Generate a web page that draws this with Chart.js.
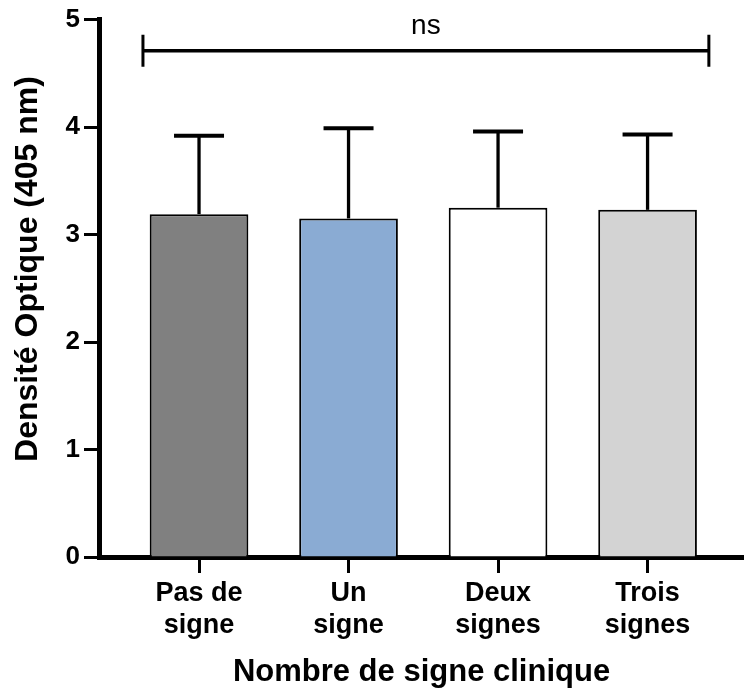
<!DOCTYPE html>
<html>
<head>
<meta charset="utf-8">
<script src="https://cdn.jsdelivr.net/npm/chart.js@4/dist/chart.umd.min.js"></script>
<style>
    html, body { margin: 0; padding: 0; background: #ffffff; }
    #chartBox { width: 744px; height: 693px; }
</style>
</head>
<body>
<div id="chartBox"><canvas id="barCanvas"></canvas></div>
<script>
// data
var categories = [["Pas de", "signe"], ["Un", "signe"], ["Deux", "signes"], ["Trois", "signes"]];
var means = [3.19, 3.15, 3.25, 3.23];
var errorTops = [3.92, 3.99, 3.96, 3.93];
var barColors = ["#808080", "#8aabd3", "#ffffff", "#d3d3d3"];
var yTicks = [0, 1, 2, 3, 4, 5];
var yTitle = "Densité Optique (405 nm)";
var xTitle = "Nombre de signe clinique";
var bracketLabel = "ns";
var bracketY = 4.71;
var bracketFrom = -0.375;
var bracketTo = 3.41;

var fontFamily = "'Liberation Sans', Arial, sans-serif";

var points = [];
for (var i = 0; i < means.length; i++) {
    points.push({ x: i, y: means[i] });
}

var errorBars = {
    id: "errorBars",
    afterDatasetsDraw: function(chart) {
        var ctx = chart.ctx;
        var xs = chart.scales.x, ys = chart.scales.y;
        ctx.save();
        ctx.strokeStyle = "#000000";
        for (var i = 0; i < means.length; i++) {
            var px = xs.getPixelForValue(i);
            var top = ys.getPixelForValue(errorTops[i]);
            ctx.lineWidth = 3.3;
            ctx.beginPath();
            ctx.moveTo(px, ys.getPixelForValue(means[i]));
            ctx.lineTo(px, top);
            ctx.stroke();
            ctx.lineWidth = 4;
            ctx.beginPath();
            ctx.moveTo(px - 25, top);
            ctx.lineTo(px + 25, top);
            ctx.stroke();
        }

        // significance bracket
        var x1 = xs.getPixelForValue(bracketFrom);
        var x2 = xs.getPixelForValue(bracketTo);
        var by = ys.getPixelForValue(bracketY);
        ctx.lineWidth = 3.5;
        ctx.beginPath();
        ctx.moveTo(x1, by);
        ctx.lineTo(x2, by);
        ctx.stroke();
        ctx.lineWidth = 3;
        ctx.beginPath();
        ctx.moveTo(x1, by - 16);
        ctx.lineTo(x1, by + 16);
        ctx.moveTo(x2, by - 16);
        ctx.lineTo(x2, by + 16);
        ctx.stroke();
        ctx.fillStyle = "#000000";
        ctx.font = "28px " + fontFamily;
        ctx.textAlign = "center";
        ctx.textBaseline = "alphabetic";
        ctx.fillText(bracketLabel, (x1 + x2) / 2, by - 17);

        // y title sits a bit above the axis middle in the original
        ctx.translate(28, 269);
        ctx.rotate(-Math.PI / 2);
        ctx.font = "bold 32px " + fontFamily;
        ctx.textBaseline = "middle";
        ctx.fillText(yTitle, 0, 0);
        ctx.restore();
    }
};

var barCTX = document.getElementById("barCanvas").getContext("2d");
var barChart = new Chart(barCTX, {
    type: "bar",
    data: {
        datasets: [{
            data: points,
            backgroundColor: barColors,
            borderColor: "#000000",
            borderWidth: 2,
            categoryPercentage: 0.66,
            barPercentage: 1
        }]
    },
    options: {
        responsive: true,
        maintainAspectRatio: false,
        animation: false,
        events: [],
        plugins: {
            legend: { display: false },
            tooltip: { enabled: false }
        },
        layout: {
            padding: { top: 17, left: 0, right: 0, bottom: 0 }
        },
        scales: {
            x: {
                type: "linear",
                min: -0.669,
                max: 3.645,
                offset: false,
                z: 1,
                afterBuildTicks: function(axis) {
                    axis.ticks = categories.map(function(c, i) { return { value: i }; });
                },
                afterFit: function(scale) { scale.height = 136; },
                ticks: {
                    color: "#000000",
                    padding: 4,
                    autoSkip: false,
                    maxRotation: 0,
                    font: { size: 27, weight: "bold", family: fontFamily },
                    callback: function(value) { return categories[value]; }
                },
                grid: {
                    offset: false,
                    drawOnChartArea: false,
                    tickLength: 16,
                    tickWidth: 3,
                    tickColor: "#000000"
                },
                border: { color: "#000000", width: 5 },
                title: {
                    display: true,
                    text: xTitle,
                    color: "#000000",
                    padding: { top: 0, bottom: 2 },
                    font: { size: 31, weight: "bold", family: fontFamily }
                }
            },
            y: {
                min: 0,
                max: 5,
                z: 1,
                afterBuildTicks: function(axis) {
                    axis.ticks = yTicks.map(function(v) { return { value: v }; });
                },
                afterFit: function(scale) { scale.width = 99; },
                ticks: {
                    color: "#000000",
                    padding: 4,
                    font: { size: 26, weight: "bold", family: fontFamily }
                },
                grid: {
                    drawOnChartArea: false,
                    tickLength: 15,
                    tickWidth: 3,
                    tickColor: "#000000"
                },
                border: { color: "#000000", width: 5 }
            }
        }
    },
    plugins: [errorBars]
});
</script>
</body>
</html>
